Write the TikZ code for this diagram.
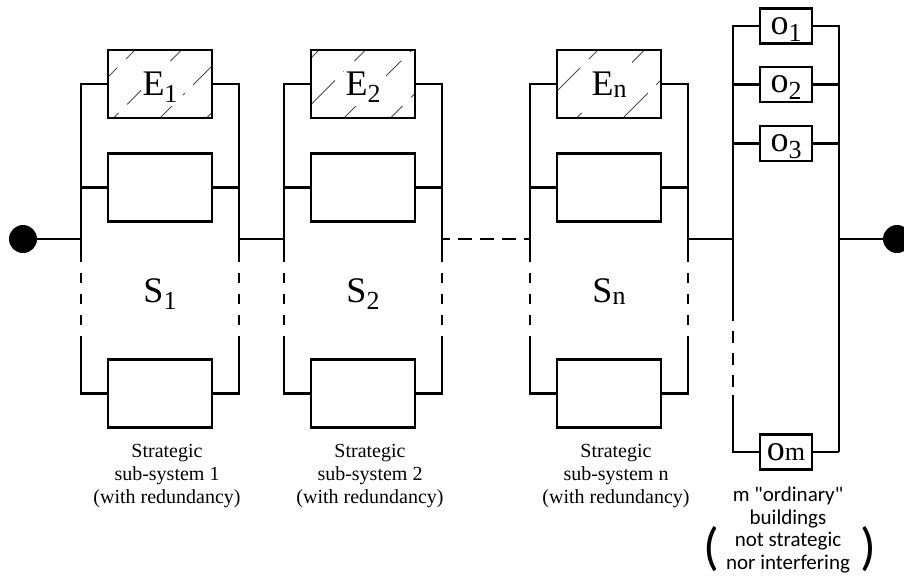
\documentclass[tikz,border=0pt]{standalone}
\usepackage{fontspec}
\setmainfont{Liberation Serif}
\newfontfamily\capfont{Carlito}
\usetikzlibrary{calc}

% lowered subscript for digits, slightly lowered / level for letters
\newcommand\dsub[1]{\lower7pt\hbox{\fontsize{26}{26}\selectfont #1}}
\newcommand\lsub[1]{\lower2pt\hbox{\fontsize{26}{26}\selectfont #1}}
\newcommand\msub[1]{\hbox{\fontsize{26}{26}\selectfont #1}}

\tikzset{
  wire/.style={line width=2.2pt},
  gapwire/.style={wire, dash pattern=on 10pt off 11pt, dash phase=10pt},
  unitbox/.style={draw, line width=2.2pt, minimum width=104pt, minimum height=68pt,
    inner sep=0pt, text depth=0pt, font=\fontsize{36}{36}\selectfont},
  obox/.style={draw, line width=2.2pt, minimum width=52pt, minimum height=35pt,
    inner sep=0pt, text depth=0pt, font=\fontsize{36}{36}\selectfont},
  hatched/.style={path picture={
    \foreach \r in {0,46.5,93,139.5,186}{
      \draw[line width=0.9pt, black!70, dash pattern=on 34pt off 12pt, dash phase=\r*0.6]
        ([shift={(#1+\r+80,-80)}]path picture bounding box.north west) --
        ([shift={(#1+\r-80,80)}]path picture bounding box.north west);
    }
    \fill[white] ([shift={(-19,-23)}]path picture bounding box.center) rectangle
                 ([shift={(23,22)}]path picture bounding box.center);
  }},
  termdot/.style={circle, fill=black, minimum size=28pt, inner sep=0pt},
  sysname/.style={inner sep=0pt, text depth=0pt, font=\fontsize{36}{36}\selectfont},
  captext/.style={align=center, inner sep=0pt, anchor=north, font=\fontsize{20}{23}\selectfont},
  rcap/.style={align=center, inner sep=0pt, anchor=north, font=\capfont\fontsize{21}{22.5}\selectfont},
  paren/.style={inner sep=0pt, font=\capfont\fontsize{52}{52}\selectfont},
}

\begin{document}
\begin{tikzpicture}[x=1pt,y=-1pt]
\useasboundingbox (0,0) rectangle (904,576);

% end terminals
\node[termdot] (in) at (23,239) {};
\node[termdot] (out) at (897,239) {};

% strategic sub-systems
\foreach \k/\cx/\ph/\sub in {1/160/27/\dsub{1}, 2/363/8/\dsub{2}, n/609/41/\lsub{n}} {
  \node[unitbox, hatched=\ph] (E\k) at (\cx,84) {E\sub};
  \node[unitbox] (B\k) at (\cx,187.5) {};
  \node[unitbox] (C\k) at (\cx,393.5) {};
  \coordinate (La\k) at (\cx-79,262);
  \coordinate (Lb\k) at (\cx-79,336);
  \coordinate (Ra\k) at (\cx+79,262);
  \coordinate (Rb\k) at (\cx+79,336);
  \draw[wire] (E\k.west) -| (La\k);
  \draw[wire] (B\k.west) -- (B\k.west -| La\k);
  \draw[wire] (C\k.west) -| (Lb\k);
  \draw[gapwire] (La\k) -- (Lb\k);
  \draw[wire] (E\k.east) -| (Ra\k);
  \draw[wire] (B\k.east) -- (B\k.east -| Ra\k);
  \draw[wire] (C\k.east) -| (Rb\k);
  \draw[gapwire] (Ra\k) -- (Rb\k);
  \node[sysname] (S\k) at (\cx,291) {S\sub};
  \node[captext] (T\k) at (\cx+7,444) {Strategic\\sub-system \k\\(with redundancy)};
}

% ordinary buildings
\foreach \i/\y in {1/26, 2/84.5, 3/143.5}
  \node[obox] (o\i) at (786,\y) {o\dsub{\i}};
\node[obox] (om) at (786,452) {o\msub{m}};
\coordinate (oLa) at (733,321);
\coordinate (oLb) at (733,395);
\coordinate (oRb) at (839,452);
\draw[wire] (o1.west) -| (oLa);
\draw[wire] (o2.west) -- (o2.west -| oLa);
\draw[wire] (o3.west) -- (o3.west -| oLa);
\draw[wire, dash pattern=on 12pt off 10pt, dash phase=12pt] (oLa) -- (oLb);
\draw[wire] (om.west) -| (oLb);
\draw[wire] (o1.east) -| (oRb);
\draw[wire] (om.east) -- (oRb);
\draw[wire] (o2.east) -- (o2.east -| oRb);
\draw[wire] (o3.east) -- (o3.east -| oRb);

% series line through the sub-systems
\draw[wire] (in) -- (in -| La1);
\draw[wire] (Ra1 |- in) -- (La2 |- in);
\draw[wire, dash pattern=on 14pt off 8pt, dash phase=6pt] (Ra2 |- in) -- (Lan |- in);
\draw[wire] (Ran |- in) -- (oLa |- in);
\draw[wire] (oRb |- in) -- (out);

% caption of the ordinary buildings
\node[rcap] (ocap) at (788,487) {m "ordinary"\\buildings\\not strategic\\nor interfering};
\node[paren] (lp) at (711,549) {(};
\node[paren] (rp) at (868,549) {)};
\end{tikzpicture}
\end{document}
